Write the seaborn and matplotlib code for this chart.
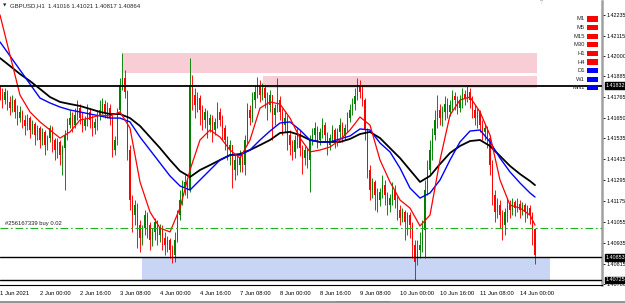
import matplotlib
matplotlib.use("Agg")
import matplotlib.pyplot as plt
import seaborn as sns
import pandas as pd
from matplotlib.patches import Rectangle
from matplotlib.lines import Line2D
from matplotlib import font_manager

# ---------------- data (prices in points, 1 point = 0.00001) ----------------
title_text = "GBPUSD,H1  1.41016 1.41021 1.40817 1.40864"

first_open_pts = 141818
close_pts = [
    141778, 141750, 141796, 141739, 141704, 141750, 141682, 141647, 141682, 141636,
    141602, 141647, 141579, 141613, 141550, 141590, 141522, 141568, 141493, 141533,
    141590, 141522, 141465, 141511, 141436, 141476, 141550, 141607, 141647, 141607,
    141664, 141704, 141647, 141602, 141636, 141682, 141636, 141590, 141625, 141659,
    141693, 141727, 141682, 141704, 141647, 141465, 141522, 141693, 141835, 141875,
    141796, 141465, 141180, 141094, 141151, 141037, 140963, 141020, 141094, 141037,
    140952, 140998, 141055, 140980, 141020, 140963, 140923, 140952, 140895, 140866,
    140952, 141094, 141180, 141248, 141283, 141237, 141835, 141778, 141721, 141761,
    141693, 141636, 141682, 141607, 141647, 141579, 141625, 141682, 141636, 141590,
    141522, 141465, 141493, 141351, 141408, 141379, 141419, 141379, 141522, 141693,
    141647, 141750, 141796, 141835, 141778, 141818, 141761, 141721, 141778, 141664,
    141704, 141750, 141682, 141607, 141647, 141550, 141493, 141454, 141522, 141550,
    141476, 141419, 141465, 141408, 141522, 141550, 141590, 141522, 141568, 141607,
    141550, 141493, 141533, 141579, 141522, 141568, 141607, 141550, 141590, 141647,
    141693, 141727, 141773, 141830, 141796, 141750, 141579, 141351, 141237, 141283,
    141208, 141180, 141226, 141265, 141208, 141151, 141191, 141237, 141180, 141123,
    141077, 141112, 141055, 141094, 141037, 140923, 140827, 140895, 140923, 141009,
    141237, 141351, 141465, 141550, 141636, 141693, 141647, 141682, 141727, 141682,
    141721, 141773, 141750, 141704, 141750, 141784, 141761, 141796, 141750, 141693,
    141647, 141682, 141607, 141568, 141590, 141533, 141379, 141208, 141112, 141151,
    141094, 141037, 141112, 141151, 141123, 141169, 141134, 141157, 141123, 141151,
    141112, 141134, 141094, 141016, 140864,
]
high_pts = [
    141835, 141818, 141818, 141807, 141773, 141778, 141761, 141721, 141716, 141693,
    141664, 141670, 141659, 141636, 141625, 141607, 141602, 141590, 141579, 141550,
    141607, 141602, 141533, 141533, 141522, 141493, 141579, 141647, 141693, 141682,
    141704, 141750, 141727, 141682, 141659, 141727, 141704, 141664, 141647, 141693,
    141750, 141761, 141750, 141739, 141727, 141664, 141545, 141704, 141875, 142018,
    141921, 141807, 141493, 141208, 141180, 141163, 141066, 141037, 141123, 141112,
    141055, 141020, 141077, 141066, 141043, 141037, 140998, 140975, 140963, 140923,
    140998, 141123, 141237, 141294, 141322, 141305, 141989, 141892, 141818, 141796,
    141778, 141721, 141704, 141693, 141670, 141664, 141647, 141739, 141704, 141664,
    141607, 141545, 141522, 141493, 141436, 141436, 141465, 141454, 141550, 141733,
    141721, 141796, 141835, 141881, 141864, 141847, 141830, 141796, 141807, 141778,
    141727, 141875, 141773, 141704, 141682, 141664, 141579, 141522, 141550, 141590,
    141579, 141493, 141488, 141476, 141550, 141590, 141625, 141602, 141590, 141647,
    141625, 141568, 141556, 141607, 141590, 141590, 141647, 141625, 141613, 141682,
    141727, 141761, 141818, 141875, 141864, 141830, 141761, 141590, 141379, 141305,
    141294, 141248, 141248, 141322, 141294, 141226, 141214, 141283, 141265, 141203,
    141151, 141134, 141123, 141112, 141112, 141055, 140952, 140952, 140998, 141066,
    141294, 141408, 141522, 141590, 141693, 141778, 141727, 141716, 141773, 141761,
    141750, 141807, 141796, 141773, 141778, 141818, 141807, 141830, 141818, 141773,
    141721, 141704, 141693, 141636, 141613, 141602, 141550, 141408, 141237, 141191,
    141180, 141123, 141134, 141191, 141180, 141191, 141180, 141191, 141180, 141169,
    141163, 141151, 141151, 141112, 141021,
]
low_pts = [
    141750, 141704, 141727, 141693, 141664, 141682, 141647, 141607, 141625, 141590,
    141550, 141579, 141533, 141556, 141493, 141522, 141476, 141493, 141436, 141465,
    141511, 141454, 141408, 141419, 141379, 141322, 141237, 141522, 141590, 141568,
    141590, 141636, 141613, 141568, 141579, 141602, 141590, 141545, 141556, 141579,
    141636, 141670, 141647, 141647, 141607, 141425, 141436, 141493, 141682, 141807,
    141761, 141408, 141123, 140998, 141037, 140906, 140884, 140923, 140980, 140963,
    140895, 140918, 140952, 140923, 140941, 140895, 140866, 140884, 140849, 140821,
    140827, 140941, 141066, 141151, 141208, 141191, 141226, 141693, 141647, 141682,
    141607, 141579, 141590, 141533, 141568, 141511, 141550, 141590, 141602, 141522,
    141465, 141408, 141379, 141248, 141294, 141322, 141340, 141340, 141322, 141493,
    141607, 141625, 141704, 141761, 141739, 141750, 141704, 141636, 141682, 141522,
    141607, 141682, 141636, 141550, 141568, 141465, 141436, 141408, 141419, 141476,
    141431, 141328, 141379, 141362, 141226, 141493, 141522, 141476, 141493, 141533,
    141511, 141436, 141465, 141511, 141476, 141488, 141533, 141511, 141522, 141568,
    141625, 141664, 141693, 141750, 141761, 141716, 141522, 141305, 141180, 141191,
    141123, 141112, 141146, 141191, 141151, 141094, 141112, 141151, 141134, 141066,
    141037, 141055, 140952, 140980, 140963, 140849, 140724, 140809, 140849, 140884,
    140849, 141208, 141322, 141408, 141522, 141590, 141607, 141602, 141636, 141647,
    141659, 141693, 141693, 141670, 141682, 141704, 141721, 141739, 141704, 141647,
    141607, 141590, 141568, 141522, 141522, 141476, 141322, 141151, 141055, 141077,
    141020, 140952, 140980, 141055, 141077, 141094, 141089, 141112, 141077, 141094,
    141055, 141077, 141043, 140923, 140817,
]

# moving averages every 4 bars (+ last bar)
ma_bars = list(range(0, 213, 4)) + [214]
ma_fast_pts = [
    142235, 142006, 141778, 141682, 141625, 141579, 141533, 141568, 141636, 141647,
    141664, 141659, 141682, 141590, 141283, 141112, 141020, 140998, 141134, 141351,
    141522, 141579, 141539, 141465, 141419, 141522, 141704, 141739, 141727, 141647,
    141533, 141454, 141465, 141482, 141522, 141579, 141653, 141607, 141408, 141283,
    141180, 141134, 141032, 141094, 141408, 141664, 141750, 141767, 141682, 141550,
    141294, 141151, 141134, 141094, 141037,
]
ma_mid_pts = [
    142081, 142001, 141921, 141841, 141761, 141733, 141710, 141693, 141682, 141670,
    141659, 141647, 141647, 141625, 141539, 141465, 141391, 141317, 141260, 141237,
    141294, 141351, 141408, 141436, 141436, 141465, 141522, 141573, 141619, 141625,
    141579, 141522, 141511, 141511, 141528, 141545, 141585, 141579, 141505, 141454,
    141362, 141248, 141191, 141220, 141294, 141408, 141511, 141573, 141579, 141511,
    141419, 141340, 141277, 141220, 141197,
]
ma_slow_pts = [
    141989, 141944, 141898, 141858, 141813, 141767, 141739, 141727, 141716, 141699,
    141682, 141670, 141670, 141647, 141602, 141539, 141476, 141408, 141345, 141311,
    141351, 141379, 141408, 141436, 141442, 141465, 141493, 141522, 141562, 141568,
    141550, 141522, 141511, 141511, 141511, 141528, 141556, 141568, 141533, 141476,
    141419, 141351, 141283, 141317, 141385, 141448, 141488, 141516, 141522, 141488,
    141431, 141374, 141328, 141288, 141265,
]

# horizontal levels and zones
level_black = [1.41832, 1.40853, 1.40725]
level_trade = 1.41021
trade_label = "#256167339 buy 0.02"
zones_pink = [(49.2, 214.8, 1.41904, 1.42018), (105.2, 214.8, 1.41818, 1.41887)]
zone_blue = (56.8, 220.0, 1.40725, 1.40853)

ytick_vals = [1.42235, 1.42115, 1.42000, 1.41885, 1.41765, 1.41650, 1.41535,
              1.41415, 1.41295, 1.41175, 1.41055, 1.40935, 1.40815, 1.40700]
xtick_bars = [0, 16, 32, 48, 64, 80, 96, 112, 128, 144, 160, 176, 192, 208]
xtick_labels = ["1 Jun 2021", "2 Jun 00:00", "2 Jun 16:00", "3 Jun 08:00",
                "4 Jun 00:00", "4 Jun 16:00", "7 Jun 08:00", "8 Jun 00:00",
                "8 Jun 16:00", "9 Jun 08:00", "10 Jun 00:00", "10 Jun 16:00",
                "11 Jun 08:00", "14 Jun 00:00"]
tf_labels = ["M1", "M5", "M15", "M30", "H1", "H4", "D1", "W1", "MN1"]
tf_colors = ["#FF0000"] * 6 + ["#0000FF"] * 3

# ---------------- build ----------------
sc = 1e-5
close = [c * sc for c in close_pts]
high = [h * sc for h in high_pts]
low = [l * sc for l in low_pts]
opens = [first_open_pts * sc] + close[:-1]   # H1 candles open at the previous close
bars = list(range(len(close)))

sns.set_style("white")
plt.rcParams['font.family'] = ['Liberation Sans', 'DejaVu Sans']

installed = {f.name for f in font_manager.fontManager.ttflist}
narrow = "Liberation Sans Narrow" if "Liberation Sans Narrow" in installed else "Liberation Sans"
ylab_size = 4.7 if narrow == "Liberation Sans Narrow" else 3.9

W, H = 625, 303
fig = plt.figure(figsize=(W / 100, H / 100), dpi=100)
ax = fig.add_axes([0, 18 / H, 602 / W, 284 / H])
ax.set_facecolor("white")

ax.set_xlim(0, 240.8)
ax.set_ylim(1.406955, 1.423143)

# zones
for (x0, x1, y0, y1) in zones_pink:
    ax.add_patch(Rectangle((x0, y0), x1 - x0, y1 - y0, facecolor="#F9CDD6",
                           edgecolor="none", zorder=0.5))
bx0, bx1, by0, by1 = zone_blue
ax.add_patch(Rectangle((bx0, by0), bx1 - bx0, by1 - by0, facecolor="#C9D5F4",
                       edgecolor="none", zorder=0.5))

# candles
for i in bars:
    o, c, h, l = opens[i], close[i], high[i], low[i]
    col = "#008000" if c >= o else "#FF0000"
    ax.vlines(i, min(l, o, c), max(h, o, c), color=col, lw=0.65, zorder=2)
    hgt = abs(c - o)
    if hgt < 2e-5:
        hgt = 2e-5
    ax.bar(i, hgt, bottom=min(o, c), width=0.6, color=col, linewidth=0, zorder=2.1)

# moving averages
for vals, col, lw in [(ma_slow_pts, "#000000", 1.3), (ma_mid_pts, "#0000FF", 1.0),
                      (ma_fast_pts, "#FF0000", 0.9)]:
    sns.lineplot(x=ma_bars, y=[v * sc for v in vals], color=col, lw=lw, ax=ax,
                 zorder=3, sort=False)

# levels
ax.axhline(level_black[0], color="black", lw=1.3, zorder=4)
ax.axhline(level_black[1], color="black", lw=1.0, zorder=4)
ax.axhline(level_black[2], color="black", lw=1.0, zorder=4)
ax.axhline(level_trade, color="#22B022", lw=0.8, ls=(0, (7, 2.5, 1.5, 2.5)), zorder=4)
ax.annotate(trade_label, xy=(2, level_trade), xytext=(0, 1.5), textcoords="offset points",
            fontsize=4.2, va="bottom", ha="left", color="#202020")

# axes styling
for s in ["top", "left"]:
    ax.spines[s].set_visible(False)
ax.spines["bottom"].set_color("black")
ax.spines["bottom"].set_linewidth(0.8)
ax.spines["right"].set_color("#A0A0A0")
ax.spines["right"].set_linewidth(1.8)

ax.yaxis.tick_right()
ax.set_yticks(ytick_vals)
ax.set_yticklabels([f"{v:.5f}" for v in ytick_vals])
ax.tick_params(axis="y", length=2.0, width=0.6, pad=1.0, labelsize=ylab_size, colors="black")
for t in ax.get_yticklabels():
    t.set_family(narrow)
ax.set_xticks(xtick_bars)
ax.set_xticklabels(xtick_labels)
for t in ax.get_xticklabels():
    t.set_ha("left")
ax.tick_params(axis="x", length=3, width=0.6, pad=1.5, labelsize=4.2, colors="black")
ax.set_xlabel("")
ax.set_ylabel("")

# boxed price labels
for v in level_black:
    ax.annotate(f"{v:.5f}", xy=(1.0, v), xycoords=("axes fraction", "data"),
                xytext=(2.4, 0), textcoords="offset points", fontsize=ylab_size,
                family=narrow, color="white", va="center", ha="left",
                annotation_clip=False,
                bbox=dict(boxstyle="square,pad=0.12", fc="black", ec="black"))

# title
fig.text(3 / W, 1 - 5.5 / H, "\u25BC", fontsize=3.2, va="center", ha="left",
         family="DejaVu Sans")
fig.text(10 / W, 1 - 5.5 / H, title_text, fontsize=4.3, va="center", ha="left")
fig.text(542 / W, 1 - 2.5 / H, "\u25BD", fontsize=3.0, va="center", ha="center",
         color="#909090", family="DejaVu Sans")

# timeframe legend
for k, (lab, col) in enumerate(zip(tf_labels, tf_colors)):
    yp = 19 + k * 8.6
    fig.text(585 / W, 1 - yp / H, lab, fontsize=4.2, ha="right", va="center")
    fig.add_artist(Rectangle((586.5 / W, 1 - (yp + 2.6) / H), 11 / W, 5.2 / H,
                             transform=fig.transFigure, facecolor=col,
                             edgecolor="none"))

# bottom window frame
fig.add_artist(Line2D([0, 1], [1.5 / H, 1.5 / H], transform=fig.transFigure,
                      color="#808080", lw=1.2))
fig.add_artist(Rectangle((337 / W, 0), 51 / W, 2.5 / H, transform=fig.transFigure,
                         facecolor="white", edgecolor="#A0A0A0", lw=0.5))

fig.savefig("out.png", dpi=100)
